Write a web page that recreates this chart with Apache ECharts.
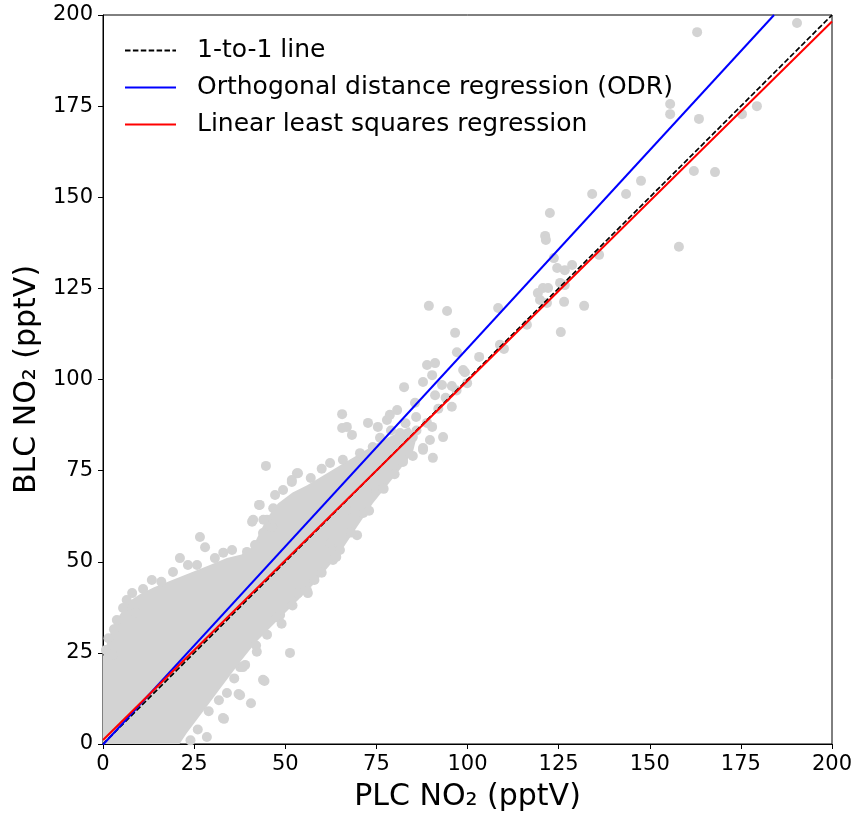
<!DOCTYPE html>
<html>
<head>
<meta charset="utf-8">
<script src="https://cdn.jsdelivr.net/npm/echarts@6/dist/echarts.min.js"></script>
<style>html,body{margin:0;padding:0;background:#fff;}#c{width:854px;height:815px;}</style>
</head>
<body>
<div id="c"></div>
<script>
// Axis ticks
var xTicks = [0, 25, 50, 75, 100, 125, 150, 175, 200];
var yTicks = [0, 25, 50, 75, 100, 125, 150, 175, 200];

// Dense core of the point cloud (outline), [PLC, BLC]
var coreUpper = [[0,0],[0,24],[1.5,29],[3,33],[5,36],[7,39],[10,41],[14,43],[19,45],[24,47],[29,49],[34,51],[38,52],[41,54],[43,58],[45,62],[48,66],[52,69],[56,71],[61,74],[66,77],[71,80],[76,83],[80,85],[84,87]];
var coreLower = [[86,84],[85,80],[82,76],[78,71],[74,66],[70,60],[66,54],[63,50],[58,44],[54,40],[50,36],[46,32],[42,28],[38,23],[35,19],[32,15],[29,11],[26,7],[23,3],[21,0]];

// Individual points (edges and outliers), [PLC, BLC]
var pointsLowUpper = [[0.8,25.8],[2.7,24.4],[1.5,29],[3.8,34],[5.5,37.3],[9,36],[8,41.4],[3,31.5],[6.5,39.5],[11,42.5],[13.4,45],[16,44.5],[19.2,47.2],[21.1,51],[23.3,49.1],[25.8,49.1],[26.6,56.8],[28,54],[30.7,51],[33,52.5],[35.4,53.2],[39.5,52.7],[41.7,54.6],[43.9,57.9],[46.4,59.5],[45,61.5],[40.9,61],[41.2,61.5],[44,61.5],[42.8,65.6],[43,65.6],[46.7,64.7],[47.2,68.3],[49.4,69.7],[51.8,71.9],[51.8,72.4],[53.2,74.3],[53.5,74.3],[44.7,76.3],[62.3,77.1],[65.8,78],[70.5,79.8],[74,81.5],[57,73],[60,75.5]];
var pointsLowLower = [[28.5,1.9],[24,1],[26,4],[32.9,7.1],[33.2,6.9],[31.8,12],[37.6,13.4],[37.2,13.7],[40.6,11.2],[43.9,17.6],[44.3,17.3],[39,21.7],[37.6,21.1],[38.4,21.1],[42.2,25.3],[51.3,25],[36,18],[34,14],[29,9],[42,27],[45,30],[48.6,35.4],[47.7,34.8],[49,33],[53.5,41.4],[56.2,41.4],[52,38],[56,42],[58,45],[60,47],[63.1,50.5],[65,53.2],[62.3,55.1],[64,51.3],[66.9,64.2],[69.7,57.3],[71.4,63.4],[68,58],[73,64],[75,69.7],[77,70],[80,74],[82.3,77.9],[87.8,80.7],[85,79],[89.7,83.4]];
var pointsMid = [[65.6,90.5],[72.7,88.1],[65.6,86.7],[66.9,87],[68.3,84.8],[75.4,87],[77.9,88.9],[81.5,85.3],[93.3,84.2],[85,84.2],[87.8,81.2],[90.5,78.5],[82.3,77.4],[80.7,91.6],[78.7,90.3],[85.9,89.7],[88.9,88.1],[90.3,87],[85.6,93.6],[95.7,92.5],[91.1,95.7],[93,98.5],[95.7,98.2],[82.6,97.9],[87.8,99.3],[90.3,101.2],[88.9,104],[91.1,104.5],[98.8,102.6],[99.3,102],[99.9,99],[103.2,106.2],[97.1,107.5],[96.6,112.8],[94.4,118.8],[89.4,120.2],[76,84],[79,86],[83,88],[86,86],[92,92],[94,95],[97,97]];
var pointsHigh = [[108.4,119.6],[108.9,109.5],[110,108.4],[116.3,115],[119.3,123.7],[120.7,125.1],[122.1,125.1],[119.9,121.8],[121.8,121],[126.5,121.3],[132,120.2],[125.6,113],[122.6,145.7],[121.3,139.4],[121.5,138.3],[123.7,133.3],[124.6,130.6],[126.7,130],[128.7,131.4],[125.4,126.5],[126.7,125.9],[136.1,134.2],[134.2,150.9],[143.5,150.9],[147.6,154.5],[158,136.4],[162.1,157.2],[167.9,156.9],[155.6,175.6],[155.6,172.8],[163.5,171.5],[175.3,172.8],[179.4,175],[163,195.3],[190.4,197.8]];

// Reference and fitted lines (end points)
var oneToOne = [[0,0],[200,200]];
var odrLine = [[0,-0.2],[184.1,200]];
var lsqLine = [[0,1.1],[200,198.2]];

var allPoints = pointsLowUpper.concat(pointsLowLower, pointsMid, pointsHigh);
var corePoly = coreUpper.concat(coreLower);

var FONT = 'DejaVu Sans';
var chart = echarts.init(document.getElementById('c'));
chart.setOption({
  animation: false,
  backgroundColor: '#fff',
  grid: {left: 103, top: 15, width: 729, height: 729, outerBoundsMode: 'none', containLabel: false,
    show: true, borderColor: '#000', borderWidth: 1, backgroundColor: 'transparent'},
  legend: {
    left: 119, top: 33, orient: 'vertical', itemWidth: 51, itemHeight: 14, itemGap: 12,
    data: ['1-to-1 line', 'Orthogonal distance regression (ODR)', 'Linear least squares regression'],
    itemStyle: {color: 'transparent', borderColor: 'transparent', borderWidth: 0, opacity: 0},
    textStyle: {fontFamily: FONT, fontSize: 25, color: '#000', padding: [0, 0, 0, 16]}
  },
  xAxis: {
    type: 'value', min: 0, max: 200, interval: 25,
    name: 'PLC NO\u2082 (pptV)', nameLocation: 'middle', nameGap: 38,
    nameTextStyle: {fontFamily: FONT, fontSize: 30, color: '#000'},
    axisLine: {show: true, lineStyle: {color: '#000', width: 1}},
    axisTick: {show: true, inside: false, length: 5, lineStyle: {color: '#000'}},
    axisLabel: {fontFamily: FONT, fontSize: 21, color: '#000', margin: 10,
      formatter: function (v) { return xTicks.indexOf(v) >= 0 ? String(v) : ''; }},
    splitLine: {show: false}
  },
  yAxis: {
    type: 'value', min: 0, max: 200, interval: 25,
    name: 'BLC NO\u2082 (pptV)', nameLocation: 'middle', nameGap: 61,
    nameTextStyle: {fontFamily: FONT, fontSize: 30, color: '#000'},
    axisLine: {show: true, lineStyle: {color: '#000', width: 1}},
    axisTick: {show: true, inside: false, length: 5, lineStyle: {color: '#000'}},
    axisLabel: {fontFamily: FONT, fontSize: 21, color: '#000', margin: 10,
      formatter: function (v) { return yTicks.indexOf(v) >= 0 ? String(v) : ''; }},
    splitLine: {show: false}
  },
  series: [
    {
      type: 'custom', name: 'core', silent: true, z: 1,
      data: [[0, 0]],
      renderItem: function (params, api) {
        var pts = corePoly.map(function (p) { return api.coord(p); });
        return {type: 'polygon', shape: {points: pts}, style: {fill: '#d3d3d3'}};
      }
    },
    {
      type: 'scatter', name: 'points', silent: true, z: 2,
      data: allPoints, symbolSize: 10,
      itemStyle: {color: '#d3d3d3', opacity: 1}
    },
    {
      type: 'line', name: '1-to-1 line', data: oneToOne, symbol: 'none', z: 3,
      lineStyle: {color: '#000', width: 1.7, type: [5.5, 2.4]}, itemStyle: {color: '#000'}
    },
    {
      type: 'line', name: 'Orthogonal distance regression (ODR)', data: odrLine, symbol: 'none', z: 4,
      lineStyle: {color: '#0000ff', width: 2}, itemStyle: {color: '#0000ff'}
    },
    {
      type: 'line', name: 'Linear least squares regression', data: lsqLine, symbol: 'none', z: 5,
      lineStyle: {color: '#ff0000', width: 2}, itemStyle: {color: '#ff0000'}
    }
  ]
});
</script>
</body>
</html>
